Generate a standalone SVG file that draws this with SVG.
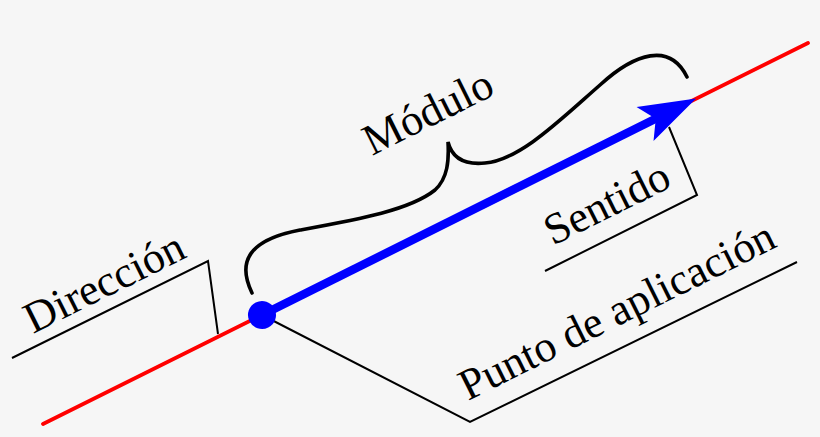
<svg xmlns="http://www.w3.org/2000/svg" width="820" height="437" viewBox="0 0 820 437">
<style>
.lbl{font-family:"Liberation Serif","Times New Roman",serif;font-size:44px;fill:#000}
.lead{fill:none;stroke:#000;stroke-width:2}
</style>
<rect width="820" height="437" fill="#f6f6f6"/>
<g id="connectors">
<line id="direction-line" x1="43" y1="424" x2="808" y2="43" stroke="#ff0000" stroke-width="3.8" stroke-linecap="round"/>
<polyline class="lead" points="12,358 208,261 218,334"/>
<polyline class="lead" points="545,271 697,195 669,127"/>
<polyline class="lead" points="262,315 470,422 797,262"/>
<path id="brace" fill="none" stroke="#000" stroke-width="3.6" stroke-linecap="round" d="M252,293 C237,262 248,240 300,230 C360,219 410,210 435,190 C448,178 449,160 448,142 C452,158 465,165 485,163 C520,160 560,120 600,85 C635,53 670,42 687,77"/>
</g>
<g id="vector" transform="translate(262,315) rotate(-26.5)">
<line x1="0" y1="0" x2="442" y2="0" stroke="#0000ff" stroke-width="8.5"/>
<polygon points="485,0 428,-19 440,0 428,19" fill="#0000ff"/>
<circle cx="0" cy="0" r="14" fill="#0000ff"/>
</g>
<g id="label-direccion"><text class="lbl" transform="translate(33,334) rotate(-26.5)">Dirección</text></g>
<g id="label-modulo"><text class="lbl" transform="translate(372,156) rotate(-26.5)">Módulo</text></g>
<g id="label-sentido"><text class="lbl" transform="translate(553,246) rotate(-26.5)">Sentido</text></g>
<g id="label-punto"><text class="lbl" transform="translate(468,401) rotate(-26.5)">Punto de aplicación</text></g>
</svg>
